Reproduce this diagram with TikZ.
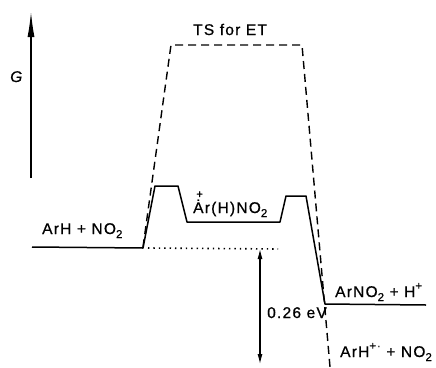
\documentclass[tikz,border=0pt]{standalone}
\usepackage{fontspec}
\setmainfont{Liberation Sans}
\newfontfamily\lblfont[LetterSpace=8,FakeBold=0.7]{Liberation Sans}
\newcommand{\subidx}[1]{\raisebox{-0.5ex}{\fontsize{11.5}{11.5}\selectfont #1}}
\newcommand{\supidx}[1]{\raisebox{0.9ex}{\fontsize{11.5}{11.5}\selectfont #1}}
\usetikzlibrary{arrows.meta}
\begin{document}
\begin{tikzpicture}[x=1pt, y=-1pt,
    curve/.style={line width=1.5pt, line join=round},
    etpath/.style={line width=1.4pt, dash pattern=on 8pt off 5pt},
    refline/.style={line width=1.6pt, dash pattern=on 1.4pt off 4pt},
    lbl/.style={font=\lblfont\fontsize{15.5}{17}\selectfont, inner sep=0pt, anchor=base west},
    arr/.style={line width=1.1pt, {Latex[length=10pt,width=5pt]}-{Latex[length=10pt,width=5pt]}}
]
\useasboundingbox (0,0) rectangle (436,367);
% free energy axis
\coordinate (g0) at (31,178);
\coordinate (g1) at (31,12);
\draw[line width=1.1pt, -{Latex[length=25pt,width=7pt]}] (g0) -- (g1);
\node[lbl, font=\lblfont\fontsize{15.5}{17}\selectfont\itshape] (glab) at (10,82) {G};
% polar pathway
\coordinate (r0) at (32,247);
\coordinate (r1) at (143,248);
\coordinate (ta) at (155,186);
\coordinate (tb) at (178,186);
\coordinate (w0) at (187,222);
\coordinate (w1) at (280,222);
\coordinate (tc) at (286,196);
\coordinate (td) at (306,196);
\coordinate (p0) at (325,304);
\coordinate (p1) at (426,305);
\draw[curve] (r0) -- (r1) -- (ta) -- (tb) -- (w0) -- (w1) -- (tc) -- (td) -- (p0) -- (p1);
% electron transfer pathway
\coordinate (e0) at (143,247);
\coordinate (e1) at (171,45);
\coordinate (e2) at (302,45);
\coordinate (e3) at (330,367);
\draw[etpath] (e0) -- (e1) -- (e2) -- (e3);
% reference level and gap
\coordinate (d0) at (148,248);
\coordinate (d1) at (278,249);
\draw[refline] (d0) -- (d1);
\coordinate (a0) at (260,249);
\coordinate (a1) at (260,364);
\draw[arr] (a0) -- (a1);
% labels
\node[lbl] (ts) at (193,35) {TS for ET};
\node[lbl] (react) at (42,234) {ArH + NO\subidx{2}};
\node[lbl] (wheland) at (193,213) {\makebox[0pt][l]{\kern0.2em\raisebox{15pt}{\fontsize{11.5}{11.5}\selectfont +}}\.{A}r(H)NO\subidx{2}};
\node[lbl] (prod) at (335,297) {ArNO\subidx{2} + H\supidx{+}};
\node[lbl] (ip) at (340,357) {ArH\supidx{+·} + NO\subidx{2}};
\node[lbl] (gap) at (267,318) {0.26 eV};
\end{tikzpicture}
\end{document}
